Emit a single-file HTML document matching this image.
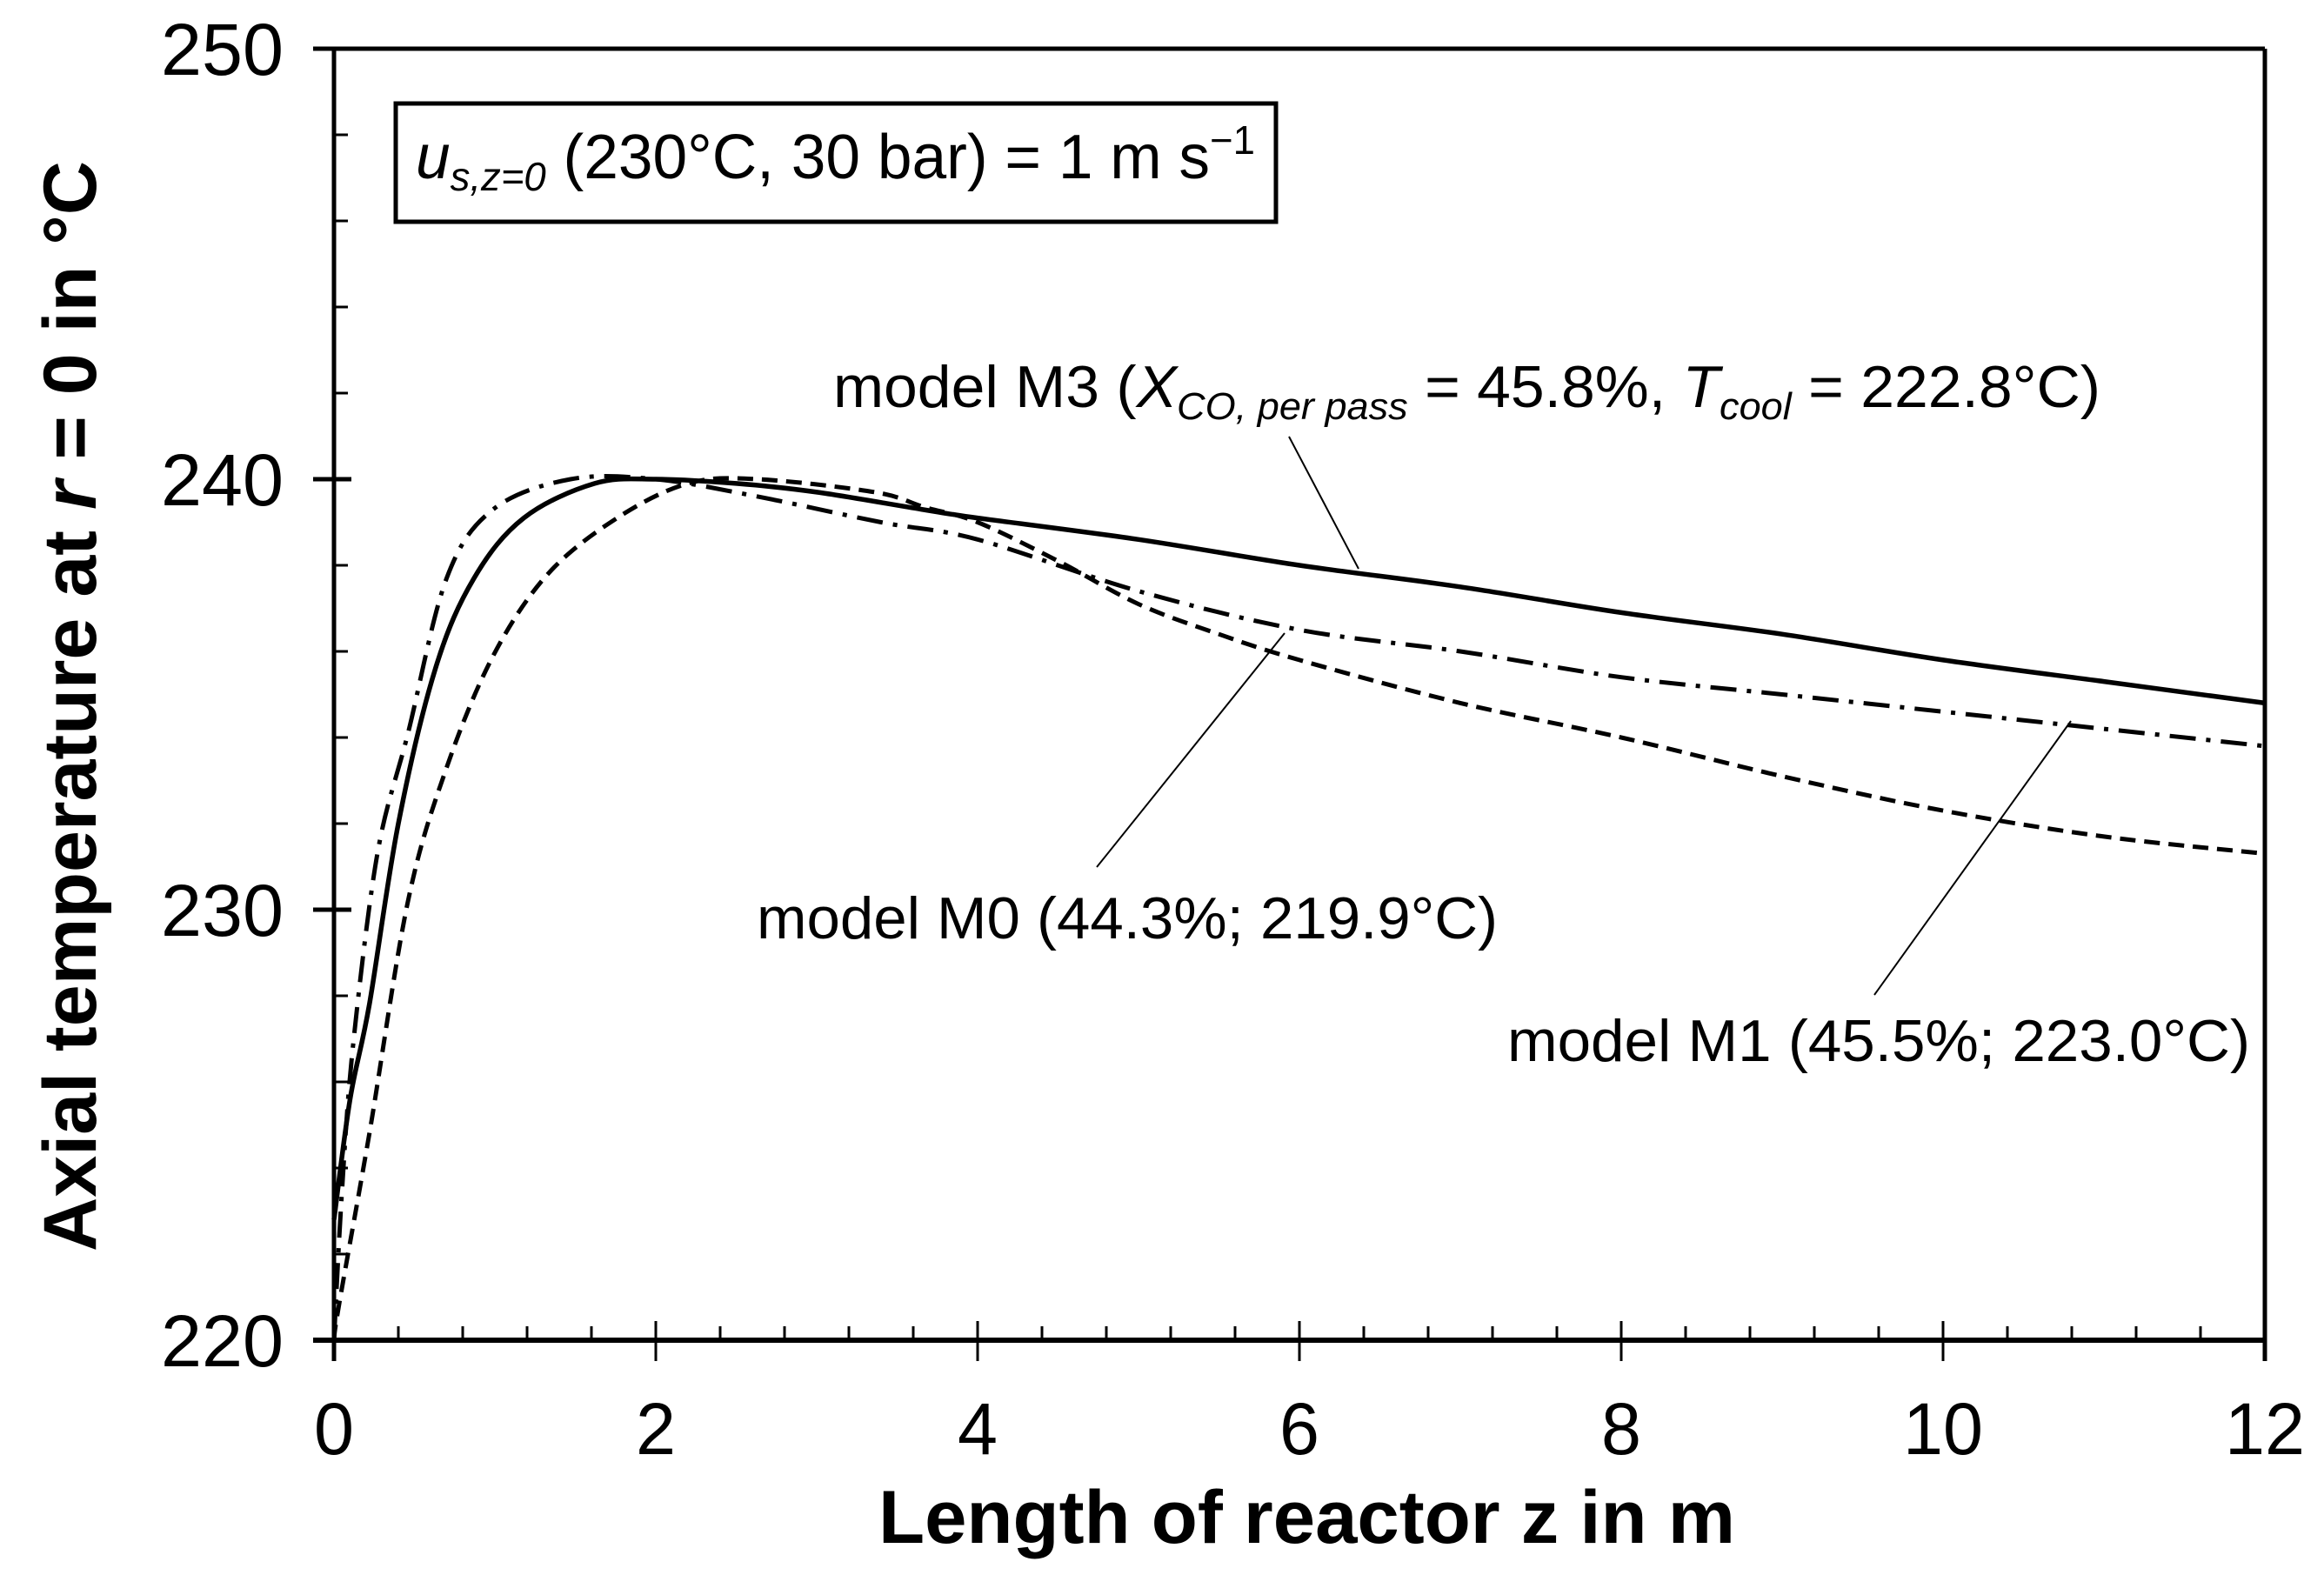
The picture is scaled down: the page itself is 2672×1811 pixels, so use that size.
<!DOCTYPE html>
<html><head><meta charset="utf-8"><style>
html,body{margin:0;padding:0;background:#fff;}
svg{display:block;font-family:"Liberation Sans",Arial,sans-serif;}
</style></head><body>
<svg id="chart" width="2672" height="1811" viewBox="0 0 2672 1811" xmlns="http://www.w3.org/2000/svg">
<rect width="2672" height="1811" fill="#fff"/>
<g id="frame"></g>
<g id="series"></g>
<g id="labels"></g>
</svg>
<script>
const xTicks = [0, 2, 4, 6, 8, 10, 12];
const yTicks = [220, 230, 240, 250];
const zM3 = [0, 0.1, 0.22, 0.4, 0.63, 0.87, 1.18, 1.62, 2, 2.5, 3, 3.65, 4, 5, 6, 7, 8, 9, 10, 11, 12];
const tM3 = [222.8, 225.6, 227.8, 232.0, 235.6, 237.7, 239.1, 239.9, 240, 239.9, 239.7, 239.3, 239.1, 238.6, 238.0, 237.5, 236.9, 236.4, 235.8, 235.3, 234.8];
const zM1 = [0, 0.05, 0.12, 0.27, 0.46, 0.7, 0.99, 1.47, 2, 2.63, 3.4, 4, 5, 6, 7, 8, 9, 10, 11, 12];
const tM1 = [220, 223.5, 226.9, 231.3, 234.1, 237.7, 239.3, 240, 240, 239.6, 239.0, 238.6, 237.4, 236.5, 236.0, 235.4, 235.0, 234.6, 234.2, 233.8];
const zM0 = [0, 0.03, 0.22, 0.46, 0.7, 0.99, 1.33, 1.76, 2.2, 2.63, 3.36, 3.67, 4, 4.5, 5, 5.5, 6, 7, 8, 9, 10, 11, 12];
const tM0 = [220, 220.8, 224.8, 230.2, 233.3, 235.9, 237.8, 239.1, 239.9, 240, 239.7, 239.35, 239.0, 238.1, 237.1, 236.4, 235.8, 234.8, 234.0, 233.1, 232.3, 231.7, 231.3];

const NS = "http://www.w3.org/2000/svg";
const X0 = 384, X1 = 2604, Y0 = 1541, Y1 = 56;
const xs = z => X0 + (z - 0) / 12 * (X1 - X0);
const ys = t => Y0 - (t - 220) / 30 * (Y0 - Y1);
function mk(tag, attrs, parent) {
  const e = document.createElementNS(NS, tag);
  for (const k in attrs) e.setAttribute(k, attrs[k]);
  parent.appendChild(e);
  return e;
}
const frame = document.getElementById('frame');
const series = document.getElementById('series');
const labels = document.getElementById('labels');

let a = mk('line', {x1: 360, y1: Y0, x2: X1, y2: Y0, stroke: '#000', 'stroke-width': 6}, frame);


a = mk('line', {x1: X0, y1: Y1, x2: X0, y2: Y0 + 24, stroke: '#000', 'stroke-width': 5}, frame);


a = mk('line', {x1: 360, y1: Y1, x2: X1, y2: Y1, stroke: '#000', 'stroke-width': 5}, frame);


a = mk('line', {x1: X1, y1: Y1, x2: X1, y2: Y0 + 24, stroke: '#000', 'stroke-width': 5}, frame);



for (let i = 0; i <= 30; i++) {
  const z = i * 0.4;
  const major = i % 5 === 0;
  const t = mk('line', {x1: xs(z), y1: major ? Y0 - 22 : Y0 - 16, x2: xs(z), y2: major ? Y0 + 24 : Y0, stroke: '#000', 'stroke-width': 3}, frame);
  
  
}
xTicks.forEach(v => {
  const s = String(v);
  const t = mk('text', {x: xs(v), y: 1672, 'font-size': 84, 'text-anchor': 'middle', textLength: s.length * 46, lengthAdjust: 'spacingAndGlyphs'}, labels);
  t.textContent = s;
  
  
});
for (let i = 0; i <= 15; i++) {
  const v = 220 + i * 2;
  const major = i % 5 === 0;
  const t = mk('line', {x1: major ? 360 : X0, y1: ys(v), x2: X0 + (major ? 20 : 16), y2: ys(v), stroke: '#000', 'stroke-width': major ? 5 : 3}, frame);
  
  
}
yTicks.forEach(v => {
  const s = String(v);
  const t = mk('text', {x: 326, y: ys(v) + 30, 'font-size': 84, 'text-anchor': 'end', textLength: s.length * 47, lengthAdjust: 'spacingAndGlyphs'}, labels);
  t.textContent = s;
  
  
});

function path(zs, ts) {
  const P = zs.map((z, i) => [xs(z), ys(ts[i])]);
  let d = 'M' + P[0][0].toFixed(1) + ',' + P[0][1].toFixed(1);
  for (let i = 0; i < P.length - 1; i++) {
    const p0 = P[i - 1] || P[i], p1 = P[i], p2 = P[i + 1], p3 = P[i + 2] || P[i + 1];
    const c1 = [p1[0] + (p2[0] - p0[0]) / 6, p1[1] + (p2[1] - p0[1]) / 6];
    const c2 = [p2[0] - (p3[0] - p1[0]) / 6, p2[1] - (p3[1] - p1[1]) / 6];
    d += ' C' + c1.map(v => v.toFixed(1)).join(',') + ' ' + c2.map(v => v.toFixed(1)).join(',') + ' ' + p2.map(v => v.toFixed(1)).join(',');
  }
  return d;
}
let p = mk('path', {d: path(zM0, tM0), fill: 'none', stroke: '#000', 'stroke-width': 5, 'stroke-dasharray': '18 10'}, series);


p = mk('path', {d: path(zM1, tM1), fill: 'none', stroke: '#000', 'stroke-width': 5, 'stroke-dasharray': '30 12 5 12'}, series);


p = mk('path', {d: path(zM3, tM3), fill: 'none', stroke: '#000', 'stroke-width': 5.5}, series);


</script>
<svg style="position:absolute;left:0;top:0" width="2672" height="1811" xmlns="http://www.w3.org/2000/svg" font-family="Liberation Sans, Arial, sans-serif">
  <rect x="455" y="119" width="1012" height="136" fill="#fff" stroke="#000" stroke-width="5"/>
  <text x="478" y="205" font-size="72" textLength="965" lengthAdjust="spacingAndGlyphs"><tspan font-style="italic">u</tspan><tspan font-style="italic" font-size="46" dy="14">s,z=0</tspan><tspan dy="-14"> (230°C, 30 bar) = 1 m s</tspan><tspan font-size="46" dy="-28">−1</tspan></text>
  <text x="958" y="468" font-size="68" textLength="1457" lengthAdjust="spacingAndGlyphs">model M3 (<tspan font-style="italic">X</tspan><tspan font-style="italic" font-size="44" dy="14">CO, per pass</tspan><tspan dy="-14"> = 45.8%, </tspan><tspan font-style="italic">T</tspan><tspan font-style="italic" font-size="44" dy="14">cool</tspan><tspan dy="-14"> = 222.8°C)</tspan></text>
  <line x1="1482" y1="502" x2="1562" y2="654" stroke="#000" stroke-width="2"/>
  <text x="870" y="1079" font-size="68" textLength="852" lengthAdjust="spacingAndGlyphs">model M0 (44.3%; 219.9°C)</text>
  <line x1="1261" y1="997" x2="1477" y2="728" stroke="#000" stroke-width="2"/>
  <text x="1733" y="1220" font-size="68" textLength="854" lengthAdjust="spacingAndGlyphs">model M1 (45.5%; 223.0°C)</text>
  <line x1="2155" y1="1144" x2="2381" y2="829" stroke="#000" stroke-width="2"/>
  <text x="1010" y="1774" font-size="86" font-weight="bold" textLength="985" lengthAdjust="spacingAndGlyphs">Length of reactor z in m</text>
  <text transform="translate(110,1439) rotate(-90)" x="0" y="0" font-size="86" font-weight="bold" textLength="1254" lengthAdjust="spacingAndGlyphs">Axial temperature at <tspan font-style="italic">r</tspan> = 0 in °C</text>
</svg>
</body></html>
